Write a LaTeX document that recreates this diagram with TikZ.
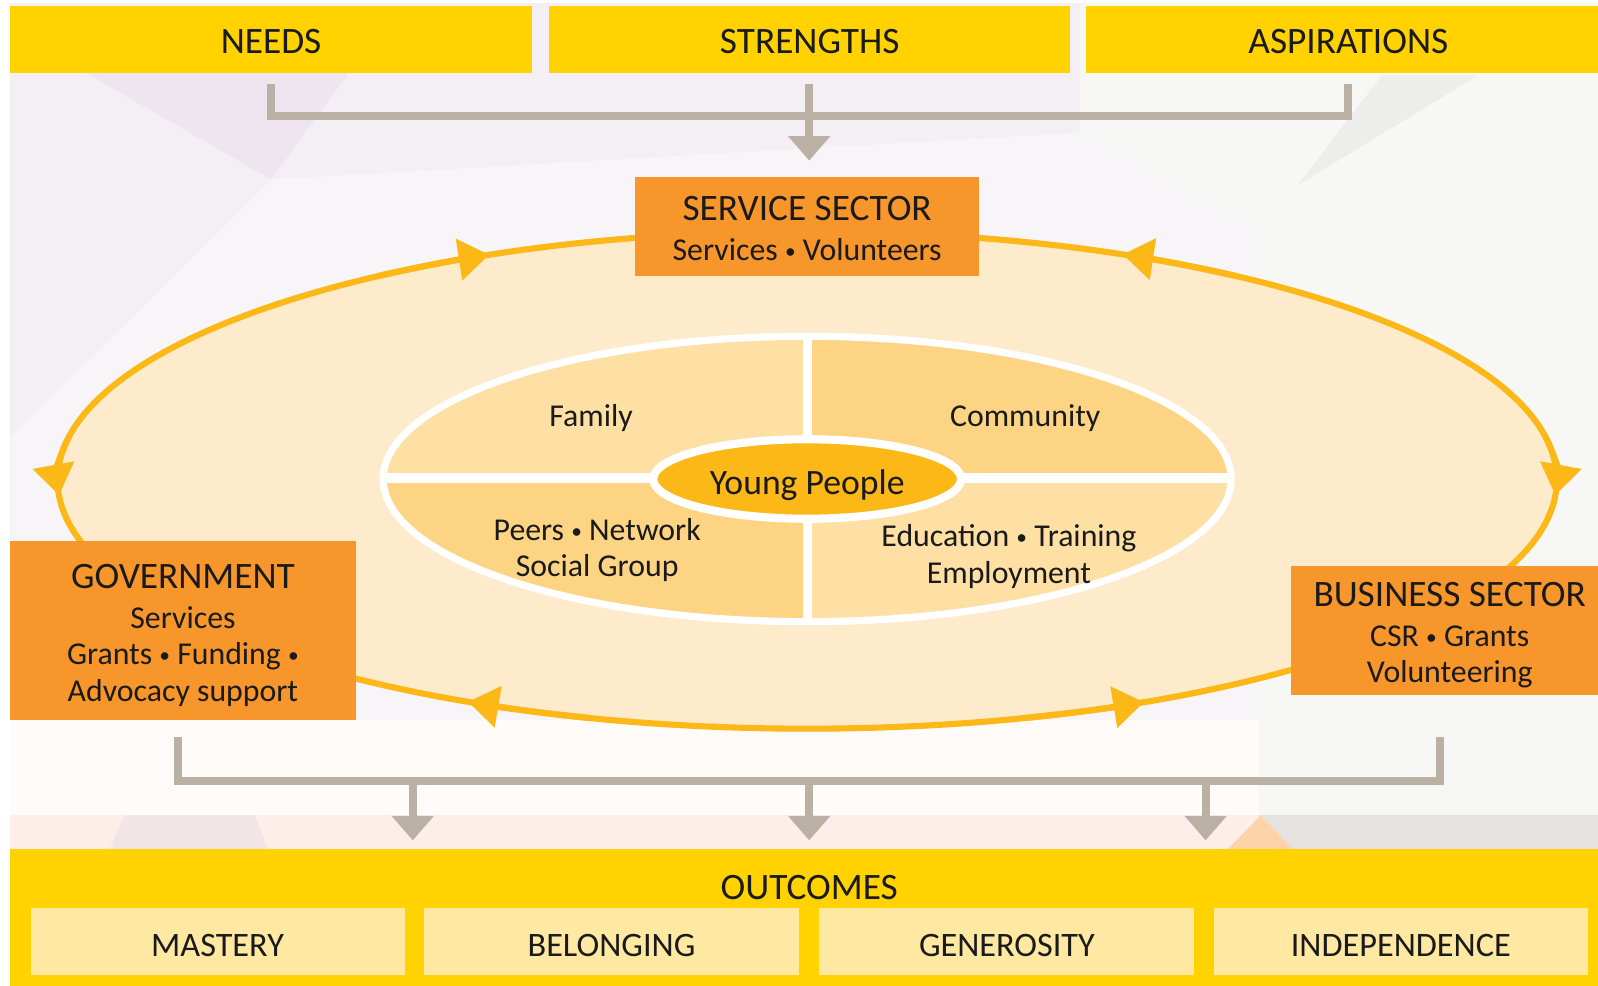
\documentclass[tikz,border=0pt]{standalone}
\usepackage{fontspec}
\setmainfont{Carlito}
\usetikzlibrary{arrows.meta,calc}
\definecolor{topyellow}{HTML}{FFD200}
\definecolor{boxorange}{HTML}{F7962B}
\definecolor{ringorange}{HTML}{FBB817}
\definecolor{ringfill}{HTML}{FEEBCC}
\definecolor{qlight}{HTML}{FEE0A5}
\definecolor{qdark}{HTML}{FDD484}
\definecolor{coreyellow}{HTML}{FCB817}
\definecolor{bracketgray}{HTML}{BAB0A3}
\definecolor{outbox}{HTML}{FEE8A2}
\definecolor{txt}{HTML}{1A1A1A}
\definecolor{bgbase}{HTML}{F7F5F7}
\definecolor{bglav}{HTML}{F3EFF5}
\definecolor{bglavdark}{HTML}{EEE5F0}
\definecolor{bgright}{HTML}{F7F7F6}
\definecolor{bggraydark}{HTML}{EDEDEB}
\definecolor{bgwhite}{HTML}{FEFBF9}
\definecolor{bgband}{HTML}{FDEEEA}
\definecolor{bgbandlav}{HTML}{F1E5E7}
\definecolor{bgbandgray}{HTML}{E6E2DF}
\definecolor{bgpeach}{HTML}{FED3AA}
\newcommand{\ttlfont}{\fontsize{18.3}{21}\selectfont}
\newcommand{\subfont}{\fontsize{15.6}{17.75}\selectfont}
\newcommand{\outfont}{\fontsize{16.8}{20}\selectfont}
\newcommand{\corefont}{\fontsize{17.5}{21}\selectfont}
\newcommand{\bul}{\raisebox{1pt}{\fontsize{10.5}{10.5}\selectfont •}}
\tikzset{
  topbox/.style={fill=topyellow, draw=none, inner sep=0pt, minimum height=33pt, font=\ttlfont, text=txt, text height=13.5pt, text depth=0pt},
  sectorbox/.style={fill=boxorange, draw=none, inner sep=0pt},
  sectortext/.style={align=center, font=\subfont, text=txt, inner sep=0pt},
  outitem/.style={fill=outbox, draw=none, inner sep=0pt, minimum height=33pt, font=\outfont, text=txt, text height=14.4pt, text depth=0pt},
  quadlabel/.style={align=center, font=\subfont, text=txt, inner sep=0pt},
  ringline/.style={draw=ringorange, line width=3pt},
  ringarrow/.style={ringline, -{Triangle[width=20pt,length=15pt]}},
  grayline/.style={draw=bracketgray, line width=4pt},
  grayarrow/.style={grayline, -{Triangle[width=20pt,length=12pt]}},
}
\begin{document}
\begin{tikzpicture}[x=0.5pt,y=-0.5pt]
\useasboundingbox (0,0) rectangle (1568,967);
% background facets
\fill[white] (0,0) rectangle (1568,967);
\fill[bgbase] (10,3) rectangle (1568,833);
\fill[bglav] (10,3) -- (1060,3) -- (1060,130) -- (266,176) -- (10,430) -- cycle;
\fill[bglavdark] (85,72) -- (342,72) -- (266,176) -- cycle;
\fill[bgright] (1060,3) -- (1568,3) -- (1568,800) -- (1235,800) -- (1235,230) -- (1060,130) -- cycle;
\fill[bggraydark] (1273,182) -- (1450,74) -- (1356,74) -- cycle;
\fill[bgwhite] (10,706) rectangle (1235,800);
\fill[bgband] (10,800) rectangle (1235,833);
\fill[bgbandlav] (122,800) -- (250,800) -- (263,833) -- (108,833) -- cycle;
\fill[bgbandgray] (1235,800) rectangle (1568,833);
\fill[bgpeach] (1205,833) -- (1237,800) -- (1268,833) -- cycle;

% outer ring
\coordinate (C) at (792,471);
\fill[ringfill] (C) ellipse [x radius=367.75pt, y radius=122pt];
\draw[ringline] (C) ellipse [x radius=367.75pt, y radius=122pt];
\draw[ringarrow] ($(C)+(10:367.75pt and 122pt)$) arc[start angle=10, end angle=-3.5, x radius=367.75pt, y radius=122pt];
\draw[ringarrow] ($(C)+(170:367.75pt and 122pt)$) arc[start angle=170, end angle=183.5, x radius=367.75pt, y radius=122pt];
\draw[ringarrow] ($(C)+(55:367.75pt and 122pt)$) arc[start angle=55, end angle=65.1, x radius=367.75pt, y radius=122pt];
\draw[ringarrow] ($(C)+(125:367.75pt and 122pt)$) arc[start angle=125, end angle=115.1, x radius=367.75pt, y radius=122pt];
\draw[ringarrow] ($(C)+(253:367.75pt and 122pt)$) arc[start angle=253, end angle=243.1, x radius=367.75pt, y radius=122pt];
\draw[ringarrow] ($(C)+(287:367.75pt and 122pt)$) arc[start angle=287, end angle=296.7, x radius=367.75pt, y radius=122pt];

% inner ellipse with quadrants
\coordinate (I) at (792,470);
\begin{scope}
  \clip (I) ellipse [x radius=208pt, y radius=70pt];
  \fill[qlight] (360,320) rectangle (792,470);
  \fill[qdark] (792,320) rectangle (1225,470);
  \fill[qdark] (360,470) rectangle (792,620);
  \fill[qlight] (792,470) rectangle (1225,620);
  \draw[white, line width=4.5pt] (792,320) -- (792,620);
  \draw[white, line width=4.5pt] (360,469) -- (1225,469);
\end{scope}
\draw[white, line width=3.5pt] (I) ellipse [x radius=208pt, y radius=70pt];
\filldraw[fill=coreyellow, draw=white, line width=4pt] (I) ellipse [x radius=75.5pt, y radius=19.5pt];
\node[font=\corefont, text=txt, inner sep=0pt] (core) at (792,476) {Young People};

\node[quadlabel] (family) at (580,410) {Family};
\node[quadlabel] (community) at (1006,410) {Community};
\node[quadlabel] (peers) at (586,540) {Peers \bul{} Network\\Social Group};
\node[quadlabel] (edu) at (990,546) {Education \bul{} Training\\Employment};

% top boxes
\node[topbox, minimum width=256pt] (needs) at (266,39) {NEEDS};
\node[topbox, minimum width=255.5pt] (strengths) at (794.5,39) {STRENGTHS};
\node[topbox, minimum width=257pt] (aspir) at (1323,39) {ASPIRATIONS};

% sector boxes
\node[sectorbox, minimum width=169pt, minimum height=48.5pt] (svc) at (792,222.5) {};
\node[sectortext] (svctext) at ($(svc.center)+(0,2)$)
  {{\ttlfont SERVICE SECTOR}\\[1.75pt]Services \bul{} Volunteers};
\node[sectorbox, minimum width=169.5pt, minimum height=87.5pt] (gov) at (179.5,618.5) {};
\node[sectortext] (govtext) at ($(gov.center)+(0,5)$)
  {{\ttlfont GOVERNMENT}\\[1.75pt]Services\\Grants \bul{} Funding \bul\\Advocacy support};
\node[sectorbox, minimum width=155.5pt, minimum height=63.5pt] (bus) at (1422.5,618.5) {};
\node[sectortext] (bustext) at ($(bus.center)+(0,5)$)
  {{\ttlfont BUSINESS SECTOR}\\[1.75pt]CSR \bul{} Grants\\Volunteering};

% outcomes
\node[fill=topyellow, draw=none, inner sep=0pt, minimum width=779pt, minimum height=67pt] (outband) at (789,900) {};
\node[font=\ttlfont, text=txt, inner sep=0pt] (outlbl) at (794,871) {OUTCOMES};
\node[outitem, minimum width=183.5pt] (mastery) at (213.5,924) {MASTERY};
\node[outitem, minimum width=184pt] (belonging) at (600,924) {BELONGING};
\node[outitem, minimum width=184pt] (generosity) at (988,924) {GENEROSITY};
\node[outitem, minimum width=183.5pt] (independence) at (1374.5,924) {INDEPENDENCE};

% top bracket
\coordinate (nb) at ($(needs.south)+(0,10)$);
\coordinate (ab) at ($(aspir.south)+(0,10)$);
\coordinate (sb) at ($(strengths.south)+(-0.5,10)$);
\draw[grayline] (nb) |- (ab |- 0,113.5) -- (ab);
\draw[grayarrow] (sb) -- ($(svc.north)+(2,-16)$);

% bottom bracket
\coordinate (gb) at (175,723);
\coordinate (bb) at (1413,723);
\coordinate (m1) at (405,766.5);
\coordinate (m2) at (794,766.5);
\coordinate (m3) at (1183,766.5);
\coordinate (tipline) at ($(outband.north)+(0,-8)$);
\draw[grayline] (gb) |- (bb |- 0,766.5) -- (bb);
\draw[grayarrow] (m1) -- (m1 |- tipline);
\draw[grayarrow] (m2) -- (m2 |- tipline);
\draw[grayarrow] (m3) -- (m3 |- tipline);
\end{tikzpicture}
\end{document}
